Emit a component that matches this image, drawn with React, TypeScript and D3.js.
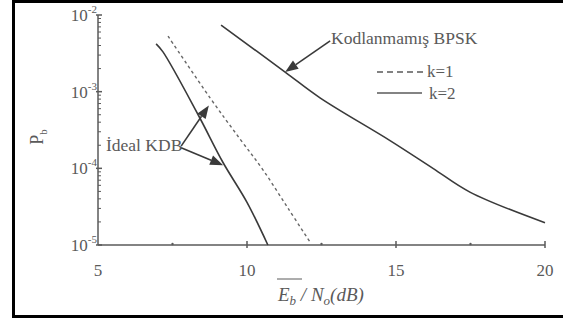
import React from 'react';
import * as d3 from 'd3';

// Eb/N0 (dB) and Pb
const k2X = [6.95, 7.18, 8.36, 9.19, 10.0, 10.7];
const k2Y = [4.2e-3, 3.3e-3, 5.0e-4, 1.2e-4, 3.6e-5, 1.0e-5];
const k1X = [7.35, 8.76, 9.77, 10.54, 11.38, 12.11];
const k1Y = [5.3e-3, 8.3e-4, 2.4e-4, 9.5e-5, 3.0e-5, 1.1e-5];
const bpskX = [9.13, 11.28, 12.45, 14.8, 16.24, 17.48, 20.0];
const bpskY = [7.4e-3, 1.8e-3, 8.3e-4, 2.3e-4, 1.0e-4, 4.9e-5, 1.95e-5];

const xTicks = [5, 10, 15, 20];
const xMinor = [7.5, 12.5, 17.5];
const yDecades = [-2, -3, -4, -5];

const W = 563;
const H = 320;
const grey = '#5a5a5a';
const ink = '#3a3a3a';
const serif = '"Liberation Serif", "Times New Roman", serif';

const x = d3.scaleLinear().domain([5, 20]).range([98, 545]);
const y = d3.scaleLog().domain([1e-5, 1e-2]).range([245, 15]);

const line = d3.line<[number, number]>()
  .x(d => x(d[0]))
  .y(d => y(d[1]))
  .curve(d3.curveCatmullRom.alpha(0.5));

const zip = (a: number[], b: number[]): [number, number][] => a.map((v, i) => [v, b[i]]);

// arrow: from [x,y] to [x,y] in data units
const Arrow = ({ from, to }: { from: [number, number]; to: [number, number] }) => {
  const x1 = x(from[0]), y1 = y(from[1]);
  const x2 = x(to[0]), y2 = y(to[1]);
  const ang = Math.atan2(y2 - y1, x2 - x1);
  const len = 13, half = 5;
  const bx = x2 - len * Math.cos(ang), by = y2 - len * Math.sin(ang);
  const px = -Math.sin(ang) * half, py = Math.cos(ang) * half;
  return (
    <g>
      <line x1={x1} y1={y1} x2={bx} y2={by} stroke={ink} strokeWidth={1.6} />
      <path d={`M${x2},${y2}L${bx + px},${by + py}L${bx - px},${by - py}Z`} fill={ink} />
    </g>
  );
};

const App = () => {
  const minorY: number[] = [];
  for (let e = -5; e < -2; e++) {
    for (let m = 2; m <= 9; m++) minorY.push(m * Math.pow(10, e));
  }

  return (
    <svg width={W} height={H} style={{ position: 'absolute', left: 0, top: 0, background: '#fff' }}>
      <rect x={13.5} y={1.5} width={W} height={315} fill="none" stroke="#000" strokeWidth={3} />

      {/* y axis */}
      <line x1={x(5)} y1={y(1e-2)} x2={x(5)} y2={y(1e-5)} stroke={grey} strokeWidth={1.5} />
      {minorY.map((v, i) => (
        <line key={i} x1={x(5)} x2={x(5) + 3} y1={y(v)} y2={y(v)} stroke={grey} strokeWidth={1} />
      ))}
      {yDecades.map(e => (
        <g key={e}>
          <line x1={x(5) - 2} x2={x(5) + 4} y1={y(Math.pow(10, e))} y2={y(Math.pow(10, e))} stroke={grey} strokeWidth={1.5} />
          <text x={x(5) - 1} y={y(Math.pow(10, e)) + 6} textAnchor="end" fontFamily={serif} fontSize={17} fill={grey}>
            10<tspan fontSize={11} dy={-8}>{e}</tspan>
          </text>
        </g>
      ))}

      {/* x axis */}
      <line x1={x(5)} y1={y(1e-5)} x2={x(20)} y2={y(1e-5)} stroke={grey} strokeWidth={1.5} />
      {xTicks.map(t => (
        <g key={t}>
          {t > 5 && <line x1={x(t)} x2={x(t)} y1={y(1e-5) - 4} y2={y(1e-5) + 3} stroke={grey} strokeWidth={1.5} />}
          <text x={x(t)} y={276} textAnchor="middle" fontFamily={serif} fontSize={17} fill={grey}>{t}</text>
        </g>
      ))}
      {xMinor.map(t => (
        <circle key={t} cx={x(t)} cy={y(1e-5) - 1} r={1.2} fill={grey} />
      ))}

      {/* curves */}
      <path d={line(zip(k2X, k2Y)) || ''} fill="none" stroke={ink} strokeWidth={1.6} />
      <path d={line(zip(k1X, k1Y)) || ''} fill="none" stroke="#666" strokeWidth={1.4} strokeDasharray="3,3" />
      <path d={line(zip(bpskX, bpskY)) || ''} fill="none" stroke={ink} strokeWidth={1.6} />

      {/* annotations */}
      <text x={331} y={44} fontFamily={serif} fontSize={17.5} fill={grey}>Kodlanmamış BPSK</text>
      <Arrow from={[12.79, 4.6e-3]} to={[11.28, 1.8e-3]} />
      <text x={106} y={151} fontFamily={serif} fontSize={17.5} fill={grey}>İdeal KDB</text>
      <Arrow from={[7.79, 1.95e-4]} to={[8.72, 6.6e-4]} />
      <Arrow from={[7.79, 1.85e-4]} to={[9.2, 1.1e-4]} />

      {/* legend */}
      <line x1={377} x2={426} y1={72} y2={72} stroke={grey} strokeWidth={1.5} strokeDasharray="6,4" />
      <text x={427} y={77} fontFamily={serif} fontSize={17} fill={grey}>k=1</text>
      <line x1={377} x2={422} y1={93} y2={93} stroke={grey} strokeWidth={1.5} />
      <text x={429} y={99} fontFamily={serif} fontSize={17} fill={grey}>k=2</text>

      {/* axis titles */}
      <text transform="translate(43,137) rotate(-90)" textAnchor="middle" fontFamily={serif} fontSize={18} fill={grey}>
        P<tspan fontSize={11} dy={4}>b</tspan>
      </text>
      <g fontFamily={serif} fontStyle="italic" fontSize={19} fill={grey}>
        <line x1={277} x2={302} y1={279} y2={279} stroke={grey} strokeWidth={1} />
        <text x={278} y={301}>
          E<tspan fontSize={13} dy={4}>b</tspan><tspan dy={-4}> / N</tspan><tspan fontSize={13} dy={4}>o</tspan><tspan dy={-4}>(dB)</tspan>
        </text>
      </g>
    </svg>
  );
};

export default App;
